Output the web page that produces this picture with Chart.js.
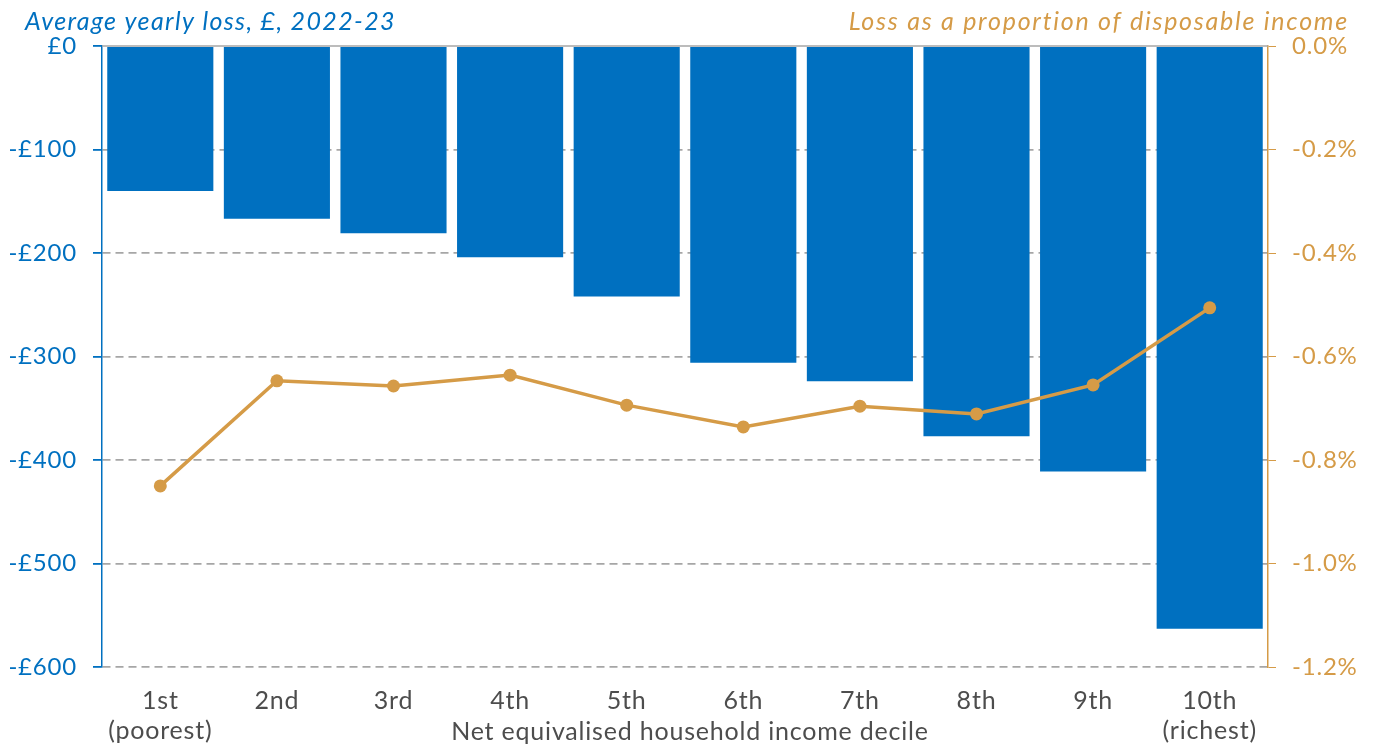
<!DOCTYPE html>
<html>
<head>
<meta charset="utf-8">
<script src="https://cdn.jsdelivr.net/npm/chart.js@4.4.1/dist/chart.umd.min.js"></script>
<style>
  html, body { margin: 0; padding: 0; background: #fff; }
  #wrap { width: 1379px; height: 749px; }
</style>
</head>
<body>
<div id="wrap"><canvas id="lossChart"></canvas></div>
<script>
// Income deciles, poorest to richest
var deciles = [['1st', '(poorest)'], '2nd', '3rd', '4th', '5th', '6th', '7th', '8th', '9th', ['10th', '(richest)']];
// Average yearly loss per household, pounds
var lossPounds = [-140, -167, -181, -204, -242, -306, -324, -377, -411, -563];
// Loss as a share of disposable income, percent
var lossShare = [-0.85, -0.647, -0.657, -0.636, -0.694, -0.736, -0.696, -0.711, -0.655, -0.506];

var leftTitle = 'Average yearly loss, £, 2022-23';
var rightTitle = 'Loss as a proportion of disposable income';
var xTitle = 'Net equivalised household income decile';

var BLUE = '#0070C0';
var ORANGE = '#D59B47';
var GREY_TEXT = '#4d4d4d';
var FONT = 'Lato';

window.addEventListener('load', function() {
    var canvas = document.getElementById('lossChart');
    var context = canvas.getContext('2d');

    // Headings above each axis, the x axis title and the solid zero line
    var decorations = {
        id: 'decorations',
        beforeDraw: function(chart) {
            // a little tracking to widen the Lato glyphs
            chart.ctx.letterSpacing = '0.8px';
        },
        beforeDatasetsDraw: function(chart) {
            var ctx = chart.ctx;
            var area = chart.chartArea;
            var y0 = chart.scales.y.getPixelForValue(0);
            ctx.save();
            ctx.strokeStyle = '#a6a6a6';
            ctx.lineWidth = 1.5;
            ctx.beginPath();
            ctx.moveTo(area.left, y0);
            ctx.lineTo(area.right, y0);
            ctx.stroke();
            ctx.restore();
        },
        afterDraw: function(chart) {
            var ctx = chart.ctx;
            ctx.save();
            ctx.textBaseline = 'alphabetic';
            ctx.font = 'italic 25px ' + FONT;
            ctx.fillStyle = BLUE;
            ctx.textAlign = 'left';
            ctx.letterSpacing = '1.35px';
            ctx.fillText(leftTitle, 25, 30);
            ctx.fillStyle = ORANGE;
            ctx.textAlign = 'right';
            ctx.letterSpacing = '1.75px';
            ctx.fillText(rightTitle, 1349, 30);
            ctx.font = '25px ' + FONT;
            ctx.fillStyle = GREY_TEXT;
            ctx.textAlign = 'center';
            ctx.textBaseline = 'middle';
            ctx.letterSpacing = '0.8px';
            ctx.fillText(xTitle, 690, 732);
            ctx.restore();
        }
    };

    new Chart(context, {
        data: {
            labels: deciles,
            datasets: [{
                type: 'line',
                data: lossShare,
                yAxisID: 'y2',
                borderColor: ORANGE,
                backgroundColor: ORANGE,
                borderWidth: 3.5,
                pointRadius: 6.5,
                pointBackgroundColor: ORANGE,
                pointBorderWidth: 0,
                tension: 0,
                order: 0
            }, {
                type: 'bar',
                data: lossPounds,
                yAxisID: 'y',
                backgroundColor: BLUE,
                categoryPercentage: 1,
                barPercentage: 0.91,
                order: 1
            }]
        },
        options: {
            responsive: true,
            maintainAspectRatio: false,
            animation: false,
            layout: { padding: { top: 46, left: 0, right: 0, bottom: 0 } },
            plugins: {
                legend: { display: false },
                tooltip: { enabled: false }
            },
            scales: {
                x: {
                    grid: { display: false },
                    border: { display: false },
                    ticks: {
                        color: GREY_TEXT,
                        font: { family: FONT, size: 25 },
                        padding: 11,
                        maxRotation: 0,
                        autoSkip: false
                    },
                    afterFit: function(scale) { scale.height = 82; }
                },
                y: {
                    position: 'left',
                    min: -600,
                    max: 0,
                    ticks: {
                        stepSize: 100,
                        color: BLUE,
                        font: { family: FONT, size: 24 },
                        padding: 16,
                        callback: function(v) { return v === 0 ? '£0' : '-£' + Math.abs(v); }
                    },
                    grid: {
                        color: function(c) { return c.tick && c.tick.value === 0 ? 'rgba(0,0,0,0)' : '#a6a6a6'; },
                        lineWidth: 1.8,
                        tickColor: BLUE,
                        tickLength: 9,
                        tickBorderDash: []
                    },
                    border: { color: BLUE, width: 1.5, dash: [8, 5] },
                    afterFit: function(scale) { scale.width = 102; }
                },
                y2: {
                    position: 'right',
                    min: -1.2,
                    max: 0,
                    ticks: {
                        stepSize: 0.2,
                        color: ORANGE,
                        font: { family: FONT, size: 24 },
                        padding: 16,
                        callback: function(v) { return (Math.abs(v) < 1e-9 ? '0.0' : v.toFixed(1)) + '%'; }
                    },
                    grid: {
                        drawOnChartArea: false,
                        tickColor: ORANGE,
                        tickLength: 8
                    },
                    border: { color: ORANGE, width: 1.5 },
                    afterFit: function(scale) { scale.width = 111; }
                }
            }
        },
        plugins: [decorations]
    });
});
</script>
</body>
</html>
